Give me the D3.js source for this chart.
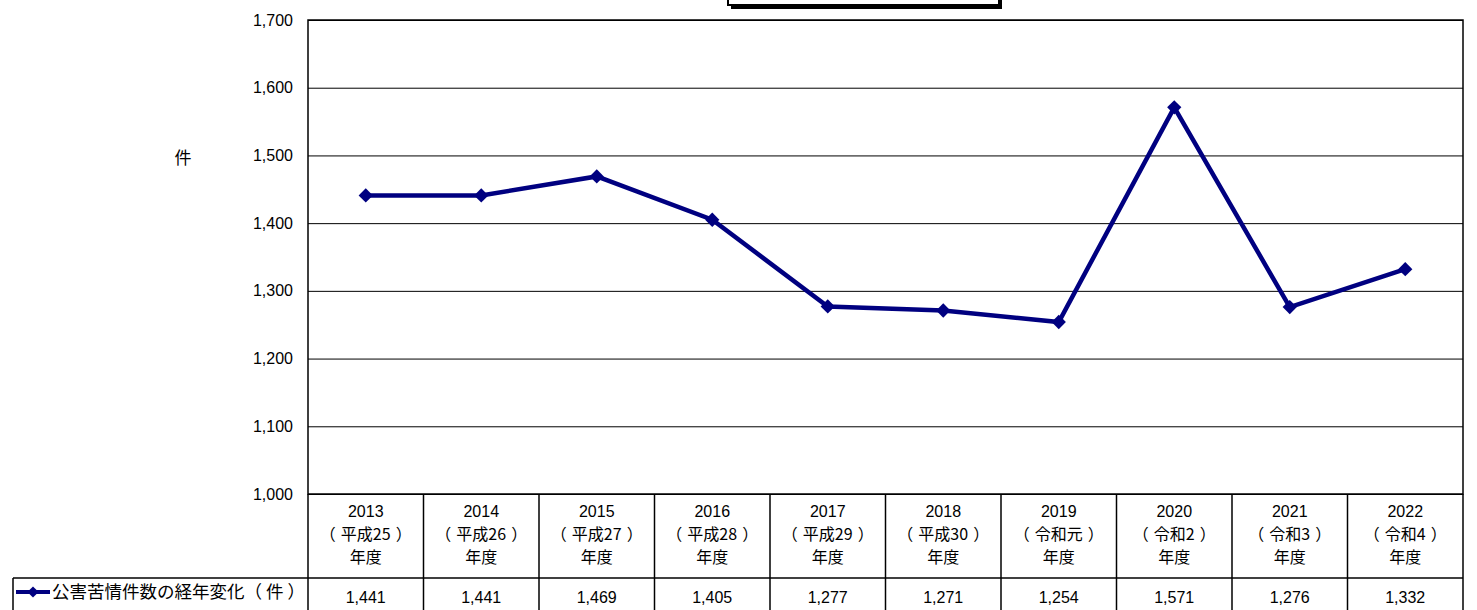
<!DOCTYPE html>
<html>
<head>
<meta charset="utf-8">
<script src="https://cdn.jsdelivr.net/npm/d3@7"></script>
<style>
  body { margin: 0; background: #fff; }
  svg { display: block; font-family: "Noto Sans CJK JP", sans-serif; }
</style>
</head>
<body>
<div id="chart"></div>
<script>
// データ
var years = ["2013", "2014", "2015", "2016", "2017", "2018", "2019", "2020", "2021", "2022"];
var eraNames = ["平成25", "平成26", "平成27", "平成28", "平成29", "平成30", "令和元", "令和2", "令和3", "令和4"];
var counts = [1441, 1441, 1469, 1405, 1277, 1271, 1254, 1571, 1276, 1332];
var yTicks = [1000, 1100, 1200, 1300, 1400, 1500, 1600, 1700];
var seriesName = "公害苦情件数の経年変化";
var seriesUnit = "件";
var unitLabel = "件";

var W = 1477, H = 610;
var plot = { left: 308, right: 1463, top: 20, bottom: 494 };
var rowValTop = 578, rowValBottom = 618;
var lineColor = "#000080";
var numFont = "'Liberation Sans', Arial, sans-serif";

var svg = d3.select("#chart").append("svg")
  .attr("width", W)
  .attr("height", H);

var x = d3.scaleBand()
  .domain(years)
  .range([plot.left, plot.right])
  .padding(0);

var y = d3.scaleLinear()
  .domain([1000, 1700])
  .range([plot.bottom, plot.top]);

// タイトル枠（上で切れている）
svg.append("rect")
  .attr("x", 731).attr("y", -40)
  .attr("width", 271).attr("height", 49)
  .attr("fill", "#000");
svg.append("rect")
  .attr("x", 728).attr("y", -40)
  .attr("width", 271).attr("height", 45)
  .attr("fill", "#fff")
  .attr("stroke", "#000")
  .attr("stroke-width", 2);

// グリッド線と目盛り
var yAxis = svg.append("g")
  .attr("transform", "translate(" + plot.left + ",0)")
  .call(d3.axisLeft(y).tickValues(yTicks).tickSize(-(plot.right - plot.left)).tickPadding(15).tickFormat(d3.format(",")));
yAxis.select(".domain").remove();
yAxis.attr("font-size", 16).attr("font-family", numFont);
yAxis.selectAll(".tick line").attr("stroke", "#000").attr("stroke-width", 1);
yAxis.selectAll(".tick text").attr("fill", "#000");

// 単位
svg.append("text")
  .attr("x", 183).attr("y", 164)
  .attr("text-anchor", "middle")
  .attr("font-size", 17)
  .text(unitLabel);

// プロット枠
svg.append("rect")
  .attr("x", plot.left).attr("y", plot.top)
  .attr("width", plot.right - plot.left).attr("height", plot.bottom - plot.top)
  .attr("fill", "none")
  .attr("stroke", "#000")
  .attr("stroke-width", 1.5);

// データテーブル
var table = svg.append("g");
years.forEach(function (d) {
  var x0 = x(d);
  table.append("line")
    .attr("x1", x0).attr("x2", x0)
    .attr("y1", plot.bottom).attr("y2", rowValBottom)
    .attr("stroke", "#000").attr("stroke-width", 1.5);
});
table.append("line")
  .attr("x1", plot.right).attr("x2", plot.right)
  .attr("y1", plot.bottom).attr("y2", rowValBottom)
  .attr("stroke", "#000").attr("stroke-width", 1.5);
table.append("line")
  .attr("x1", 13).attr("x2", plot.right)
  .attr("y1", rowValTop).attr("y2", rowValTop)
  .attr("stroke", "#000").attr("stroke-width", 1.5);
table.append("line")
  .attr("x1", 13).attr("x2", 13)
  .attr("y1", rowValTop).attr("y2", rowValBottom)
  .attr("stroke", "#000").attr("stroke-width", 1.5);

function cx(d) { return x(d) + x.bandwidth() / 2; }

var headers = table.selectAll(".hdr")
  .data(years)
  .enter()
  .append("text")
  .attr("class", "hdr")
  .attr("text-anchor", "middle")
  .attr("font-size", 16)
  .attr("fill", "#000");
headers.append("tspan")
  .attr("x", cx)
  .attr("y", 517)
  .attr("font-family", numFont)
  .text(function (d) { return d; });
var eraLine = headers.append("tspan")
  .attr("x", cx)
  .attr("y", 540);
eraLine.append("tspan").text("（");
eraLine.append("tspan").attr("dx", 5).text(function (d, i) { return eraNames[i]; });
eraLine.append("tspan").attr("dx", 5).text("）");
headers.append("tspan")
  .attr("x", cx)
  .attr("y", 563)
  .text("年度");

table.selectAll(".val")
  .data(counts)
  .enter()
  .append("text")
  .attr("class", "val")
  .attr("x", function (d, i) { return cx(years[i]); })
  .attr("y", 603)
  .attr("text-anchor", "middle")
  .attr("font-size", 16)
  .attr("font-family", numFont)
  .text(function (d) { return d3.format(",")(d); });

// 凡例
table.append("line")
  .attr("x1", 16).attr("x2", 50)
  .attr("y1", 592).attr("y2", 592)
  .attr("stroke", lineColor).attr("stroke-width", 4);
table.append("path")
  .attr("d", d3.symbol().type(d3.symbolDiamond2).size(80)())
  .attr("transform", "translate(33,592)")
  .attr("fill", lineColor);
var legendText = table.append("text")
  .attr("x", 52).attr("y", 598)
  .attr("font-size", 17.5);
legendText.append("tspan").text(seriesName);
legendText.append("tspan").text("（");
legendText.append("tspan").attr("dx", 4).text(seriesUnit);
legendText.append("tspan").attr("dx", 4).text("）");

// 折れ線
var line = d3.line()
  .x(function (d, i) { return cx(years[i]); })
  .y(function (d) { return y(d); });

svg.append("path")
  .datum(counts)
  .attr("fill", "none")
  .attr("stroke", lineColor)
  .attr("stroke-width", 4.5)
  .attr("stroke-linejoin", "miter")
  .attr("d", line);

svg.selectAll(".dot")
  .data(counts)
  .enter()
  .append("path")
  .attr("class", "dot")
  .attr("d", d3.symbol().type(d3.symbolDiamond2).size(130)())
  .attr("transform", function (d, i) {
    return "translate(" + cx(years[i]) + "," + y(d) + ")";
  })
  .attr("fill", lineColor);
</script>
</body>
</html>
